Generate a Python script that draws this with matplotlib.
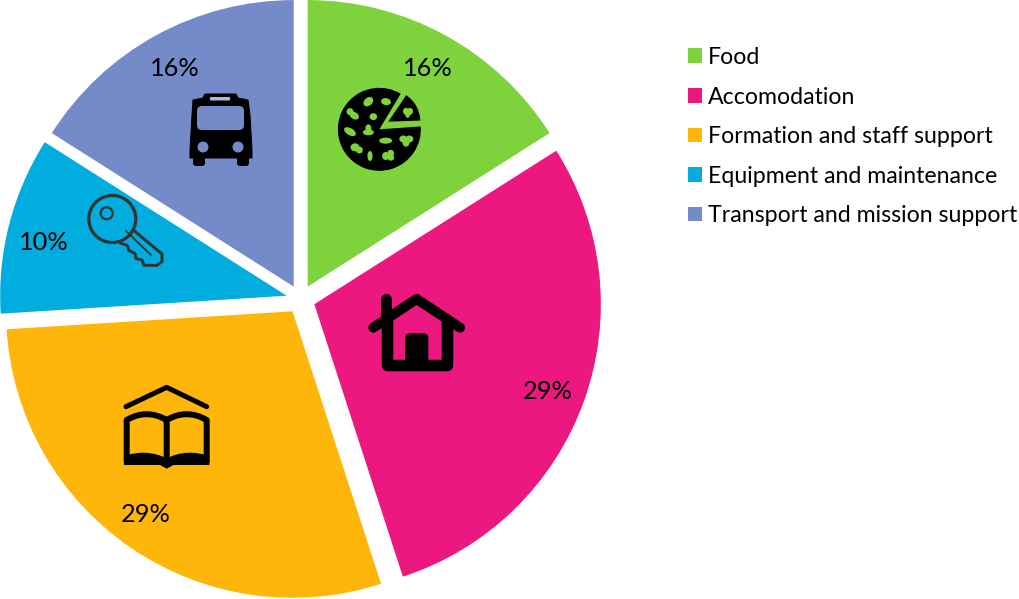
import matplotlib
matplotlib.use("Agg")
import matplotlib.pyplot as plt
from matplotlib.patches import Circle, Ellipse, FancyBboxPatch, PathPatch, Polygon, Wedge
from matplotlib.path import Path

categories = ["Food", "Accomodation", "Formation and staff support",
              "Equipment and maintenance", "Transport and mission support"]
shares = [16, 29, 29, 10, 16]
colors = ["#7ED23C", "#EC177F", "#FFB60A", "#00ADDE", "#748AC9"]

W, H = 1019, 599
plt.rcParams["font.family"] = ["Lato", "DejaVu Sans"]
fig = plt.figure(figsize=(W / 100, H / 100), dpi=100)
ax = fig.add_axes([0, 0, 1, 1])

wedges, _, pct = ax.pie(shares, colors=colors, explode=[14.5] * len(shares), startangle=90,
                        counterclock=False, radius=286.5, center=(300.7, H - 299.3),
                        autopct="%.0f%%", pctdistance=0.87, frame=False,
                        textprops={"fontsize": 18.3, "color": "black"})
ax.set_xlim(0, W)
ax.set_ylim(0, H)
ax.set_aspect("equal")
ax.axis("off")

for label, (dx, dy) in zip(pct, [(0, 0), (-1, -3), (-7, 3), (-1, -9), (1, 0)]):
    x0, y0 = label.get_position()
    label.set_position((x0 + dx, y0 + dy))

ax.legend(wedges, categories, loc="upper left", bbox_to_anchor=(681 / W, 1 - 40 / H),
          frameon=False, fontsize=16.7, handlelength=0.6, handleheight=0.6,
          handletextpad=0.26, labelspacing=0.80, borderpad=0.3, borderaxespad=0)


def px(lw):
    return lw * 0.72


def Y(y):
    return H - y


def line(points, lw, color="black", zorder=5, cap="round"):
    xs = [p[0] for p in points]
    ys = [Y(p[1]) for p in points]
    ax.plot(xs, ys, color=color, lw=px(lw), solid_capstyle=cap, solid_joinstyle="round", zorder=zorder)


def zoomed(origin, pts):
    return [(origin[0] + x / 3, origin[1] + y / 3) for x, y in pts]


def poly(points, color="black", zorder=5, **kw):
    ax.add_patch(Polygon([(x, Y(y)) for x, y in points], closed=True, facecolor=color,
                         edgecolor=kw.get("edge", "none"), lw=kw.get("lw", 0), zorder=zorder,
                         joinstyle="round"))


def rbox(x0, y0, x1, y1, r, color="black", zorder=5):
    ax.add_patch(FancyBboxPatch((x0 + r, Y(y1) + r), x1 - x0 - 2 * r, y1 - y0 - 2 * r,
                                boxstyle=f"round,pad={r}", facecolor=color, edgecolor="none", zorder=zorder))


# pizza icon
o = (320, 70)
cx, cy = zoomed(o, [(178, 178)])[0]
ax.add_patch(Wedge((cx, Y(cy)), 41.5, 59, 364, facecolor="black", edgecolor="none", zorder=5))
sx, sy = zoomed(o, [(205, 155)])[0]
ax.add_patch(Wedge((sx, Y(sy)), 32, 2, 56, facecolor="black", edgecolor="none", zorder=5))
green = colors[0]
for x, y, a, b, ang in [(145, 95, 5.5, 4, 40), (198, 95, 5, 3.5, -10), (90, 125, 3.5, 3.5, 0), (103, 137, 5, 3.5, -30),
                        (160, 140, 3.8, 3.5, 0), (90, 185, 6.5, 3.5, -30), (145, 175, 3, 4, 0), (145, 187, 5.5, 3, 0),
                        (197, 212, 6.5, 3, 0), (250, 207, 4, 3.5, 0), (268, 207, 4, 3.5, 0), (258, 218, 3.5, 4, 0),
                        (105, 232, 4.5, 4, 0), (118, 240, 3.5, 3.5, 0), (150, 258, 2.6, 5, 0),
                        (197, 258, 3.5, 4, 0), (212, 250, 3.5, 3.5, 0), (212, 263, 3.5, 3, 0),
                        (258, 124, 3, 3.5, 0), (270, 124, 3, 3.5, 0), (263, 133, 2.3, 3.5, 0)]:
    ex, ey = zoomed(o, [(x, y)])[0]
    ax.add_patch(Ellipse((ex, Y(ey)), 2 * a, 2 * b, angle=ang, facecolor=green, edgecolor="none", zorder=6))

# bus icon
body = Path([(190, Y(150)), (192, Y(115)), (193, Y(100)), (203, Y(98)), (205, Y(94)), (236, Y(94)),
             (238, Y(98)), (248, Y(100)), (250, Y(115)), (252, Y(150)), (252, Y(158)), (190, Y(158)),
             (190, Y(150))], closed=True)
ax.add_patch(PathPatch(body, facecolor="black", edgecolor="black", lw=px(1), joinstyle="round", zorder=5))
rbox(193, 152, 205, 166, 3)
rbox(237, 152, 249, 166, 3)
rbox(197, 106, 244, 130, 5, color=colors[4], zorder=6)
ax.add_patch(Circle((203, Y(147)), 5.5, facecolor=colors[4], edgecolor="none", zorder=6))
ax.add_patch(Circle((238, Y(147)), 5.5, facecolor=colors[4], edgecolor="none", zorder=6))
rbox(210, 97, 230, 100.5, 0.5, color="#A9B6DE", zorder=6)

# key icon
o = (80, 80)
kx, ky = zoomed(o, [(97, 417)])[0]
key_color = "#333333"
shaft = zoomed(o, [(150, 442), (246, 522), (246, 545), (230, 556), (192, 556), (186, 540), (168, 536),
                   (165, 520), (147, 512), (142, 496), (122, 490), (112, 478)])
poly(shaft, color=colors[3], zorder=5, edge=key_color, lw=px(3))
ax.add_patch(Circle((kx, Y(ky)), 23.5, facecolor=colors[3], edgecolor=key_color, lw=px(3.2), zorder=6))
hx, hy = zoomed(o, [(80, 400)])[0]
ax.add_patch(Circle((hx, Y(hy)), 6, facecolor="none", edgecolor=key_color, lw=px(2.2), zorder=7))
line(zoomed(o, [(138, 453), (213, 525)]), 1.8, color=key_color, zorder=7)

# house icon
o = (110, 280)
line(zoomed(o, [(790, 143), (920, 57), (1050, 143)]), 10)
line(zoomed(o, [(828, 58), (828, 110)]), 11)
line(zoomed(o, [(830, 120), (830, 256), (1010, 256), (1010, 120)]), 11.5)
a = zoomed(o, [(885, 160)])[0]
b = zoomed(o, [(955, 250)])[0]
rbox(a[0], a[1], b[0], b[1], 5)

# book icon
line(zoomed(o, [(48, 380), (170, 322), (290, 380)]), 5)
left = zoomed(o, [(170, 545), (170, 420), (110, 385), (50, 420), (50, 545)])
right = zoomed(o, [(170, 420), (230, 385), (290, 420), (290, 545)])
for pts, codes in [
    (left, [Path.MOVETO, Path.LINETO, Path.CURVE3, Path.CURVE3, Path.LINETO]),
    (right, [Path.MOVETO, Path.CURVE3, Path.CURVE3, Path.LINETO]),
]:
    ax.add_patch(PathPatch(Path([(x, Y(y)) for x, y in pts], codes), facecolor="none", edgecolor="black",
                           lw=px(6), joinstyle="round", capstyle="round", zorder=5))
base = zoomed(o, [(42, 555), (42, 528), (110, 505), (170, 535), (230, 505), (298, 528), (298, 555),
                  (190, 555), (170, 566), (150, 555)])
base_path = Path([(x, Y(y)) for x, y in base] + [(base[0][0], Y(base[0][1]))],
                 [Path.MOVETO, Path.LINETO, Path.CURVE3, Path.CURVE3, Path.CURVE3, Path.CURVE3, Path.LINETO,
                  Path.LINETO, Path.LINETO, Path.LINETO, Path.CLOSEPOLY])
ax.add_patch(PathPatch(base_path, facecolor="black", edgecolor="none", zorder=5))

fig.savefig("out.png", dpi=100, facecolor="white")
